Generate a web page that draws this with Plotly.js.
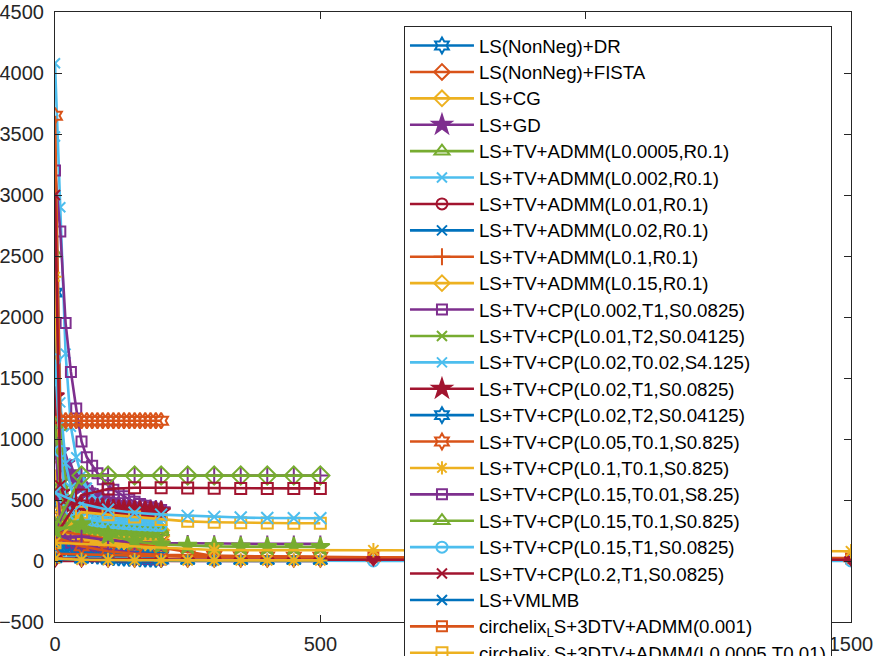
<!DOCTYPE html>
<html>
<head>
<meta charset="utf-8">
<script src="https://cdn.plot.ly/plotly-3.0.1.min.js"></script>
<style>
  html, body { margin: 0; padding: 0; background: #fff; overflow: hidden; }
  #frame { width: 875px; height: 656px; overflow: hidden; }
  #chart { width: 875px; height: 720px; }
</style>
</head>
<body>
<div id="frame"><div id="chart"></div></div>
<script>
// iteration grids
const iterFast = [0, 10, 20, 30, 40, 50, 60, 70, 80, 90, 100, 110, 120, 130, 140, 150, 160, 170, 180, 190, 200];
const iterMid = [0, 50, 100, 150, 200, 250, 300, 350, 400, 450, 500];
const iterLong = [0, 300, 600, 900, 1200, 1500];

const names = [
  'LS(NonNeg)+DR',
  'LS(NonNeg)+FISTA',
  'LS+CG',
  'LS+GD',
  'LS+TV+ADMM(L0.0005,R0.1)',
  'LS+TV+ADMM(L0.002,R0.1)',
  'LS+TV+ADMM(L0.01,R0.1)',
  'LS+TV+ADMM(L0.02,R0.1)',
  'LS+TV+ADMM(L0.1,R0.1)',
  'LS+TV+ADMM(L0.15,R0.1)',
  'LS+TV+CP(L0.002,T1,S0.0825)',
  'LS+TV+CP(L0.01,T2,S0.04125)',
  'LS+TV+CP(L0.02,T0.02,S4.125)',
  'LS+TV+CP(L0.02,T1,S0.0825)',
  'LS+TV+CP(L0.02,T2,S0.04125)',
  'LS+TV+CP(L0.05,T0.1,S0.825)',
  'LS+TV+CP(L0.1,T0.1,S0.825)',
  'LS+TV+CP(L0.15,T0.01,S8.25)',
  'LS+TV+CP(L0.15,T0.1,S0.825)',
  'LS+TV+CP(L0.15,T1,S0.0825)',
  'LS+TV+CP(L0.2,T1,S0.0825)',
  'LS+VMLMB',
  'circhelix<sub>L</sub>S+3DTV+ADMM(0.001)',
  'circhelix<sub>L</sub>S+3DTV+ADMM(L0.0005,T0.01)'
];

// objective value per iteration
const yDR      = [2200, 180, 120, 90, 70, 60, 50, 45, 40, 35, 30, 28, 26, 24, 22, 20, 18, 16, 15, 14, 13];
const yFista   = [1150, 420, 330, 290, 270, 260, 250, 245, 240, 235, 230, 228, 226, 224, 222, 220, 218, 216, 215, 214, 213];
const yCG      = [750, 380, 320, 300, 290, 285, 280, 278, 276, 274, 272, 270, 268, 266, 264, 262, 260, 258, 256, 254, 252];
const yGD      = [1050, 900, 800, 720, 660, 610, 570, 540, 515, 495, 478, 465, 455, 447, 440, 434, 429, 425, 421, 418, 415];
const yAdmm1   = [2520, 1100, 640, 400, 330, 310, 300, 295, 290, 285, 280, 275, 272, 270, 268, 266, 264, 262, 260, 258, 256];
const yAdmm2   = [4080, 2900, 1700, 1100, 850, 700, 600, 540, 500, 470, 450, 435, 420, 410, 400, 392, 385, 380, 375, 372, 370];
const yAdmm3   = [300, 250, 230, 220, 215, 210, 205, 200, 195, 190, 185, 180, 175, 170, 165, 160, 155, 150, 145, 140, 135];
const yAdmm4   = [540, 260, 200, 170, 150, 135, 125, 115, 110, 105, 100, 96, 92, 88, 85, 82, 80, 78, 76, 74, 72];
const yAdmm5   = [260, 240, 230, 220, 215, 210, 205, 200, 198, 196, 194, 192, 190, 188, 186, 184, 182, 180, 178, 176, 175];
const yAdmm6   = [600, 300, 270, 250, 240, 235, 230, 228, 226, 224, 222, 220, 218, 216, 214, 212, 210, 208, 206, 204, 202];
const yCp1     = [3200, 2700, 1950, 1550, 1250, 980, 850, 780, 720, 670, 620, 585, 555, 530, 505, 485, 468, 452, 440, 428, 418];
const yCp2     = [280, 270, 262, 255, 250, 246, 242, 238, 235, 232, 229, 226, 223, 220, 217, 214, 211, 208, 205, 202, 200];
const yCp3     = [3480, 1300, 800, 600, 500, 440, 400, 380, 365, 355, 348, 342, 338, 335, 332, 330, 328, 326, 324, 322, 320];
const yCp4     = [1350, 560, 480, 460, 450, 445, 440, 437, 434, 431, 428, 425, 422, 420, 418, 416, 414, 412, 410, 408, 406];
const yCp5     = [180, 160, 150, 140, 130, 120, 110, 100, 90, 85, 80, 75, 70, 65, 60, 55, 50, 45, 42, 40, 38];
const yCp6     = [3650, 1150, 1150, 1150, 1150, 1150, 1150, 1150, 1150, 1150, 1150, 1150, 1150, 1150, 1150, 1150, 1150, 1150, 1150, 1150, 1150];
const yCp7     = [2330, 400, 250, 200, 180, 170, 165, 160, 155, 150, 148, 146, 144, 142, 140, 138, 136, 134, 132, 130, 128];
const yCp8     = [1050, 300, 200, 150, 120, 100, 90, 80, 70, 60, 50, 45, 40, 35, 30, 25, 20, 18, 16, 14, 12];
const yCp9     = [1120, 620, 320, 290, 285, 280, 276, 272, 268, 265, 262, 259, 256, 253, 250, 248, 246, 244, 242, 240, 238];
const yCp10    = [1650, 900, 500, 420, 380, 360, 345, 335, 328, 322, 318, 314, 310, 307, 304, 301, 298, 296, 294, 292, 290];
const yCp11    = [3000, 620, 500, 470, 455, 450, 445, 440, 436, 432, 428, 425, 422, 419, 416, 413, 410, 408, 406, 404, 402];
const yVmlmb   = [100, 80, 65, 55, 48, 42, 38, 35, 32, 30, 28, 26, 24, 22, 20, 18, 16, 15, 14, 13, 12];
const yHelix1  = [250, 40, 30, 25, 22, 20];
const yHelix2  = [150, 400, 380, 360, 340, 325, 318, 314, 312, 310, 310];
const yHelix3  = [250, 700, 700, 700, 700, 700, 700, 700, 700, 700, 700];
const yHelix4  = [280, 700, 700, 700, 700, 700, 700, 700, 700, 700, 700];
const yHelix5  = [560, 470, 420, 395, 380, 370, 362, 356, 352, 350, 350];
const yHelix6  = [200, 540, 590, 600, 600, 598, 596, 595, 595, 595, 595];
const yHelix7  = [15, 10, 5, 3, 2, 1, 0, 0, 0, 0, 0];
const yHelix8  = [200, 120, 80, 60, 50, 45, 42, 40, 38, 36, 35];
const yHelix9  = [20, 10, 8, 6, 5, 5, 5, 5, 5, 5, 5];
const yHelix10 = [200, 200, 170, 155, 148, 145, 142, 140, 140, 140, 140];
const yHelix11 = [250, 300, 210, 160, 135, 125, 120, 118, 115, 115, 115];
const yHelix12 = [30, 5, 0, 0, 0, 0];
const yHelix13 = [0, 0, 0, 0, 0, 0, 0, 0, 0, 0, 0];
const yHelix14 = [60, 30, 28, 26, 25, 25];
const yHelix15 = [150, 90, 88, 85, 82, 80];
const yHelix16 = [20, 10, 10, 10, 10, 10];

const palette = ['#0072BD', '#D95319', '#EDB120', '#7E2F8E', '#77AC30', '#4DBEEE', '#A2142F'];

// [legend index, x grid, y values, colour index, marker symbol, marker size]
const series = [
  [0, iterFast, yDR, 0, 'hexagram-open', 12],
  [1, iterFast, yFista, 1, 'diamond-open', 12],
  [2, iterFast, yCG, 2, 'diamond-open', 12],
  [3, iterFast, yGD, 3, 'star', 14],
  [4, iterFast, yAdmm1, 4, 'triangle-up-open', 13],
  [5, iterFast, yAdmm2, 5, 'x-thin', 10],
  [6, iterFast, yAdmm3, 6, 'circle-open', 11],
  [7, iterFast, yAdmm4, 0, 'x-thin', 10],
  [8, iterFast, yAdmm5, 1, 'cross-thin', 12],
  [9, iterFast, yAdmm6, 2, 'diamond-open', 12],
  [10, iterFast, yCp1, 3, 'square-open', 10],
  [11, iterFast, yCp2, 4, 'x-thin', 10],
  [12, iterFast, yCp3, 5, 'x-thin', 10],
  [13, iterFast, yCp4, 6, 'star', 14],
  [14, iterFast, yCp5, 0, 'hexagram-open', 12],
  [15, iterFast, yCp6, 1, 'hexagram-open', 12],
  [16, iterFast, yCp7, 2, 'asterisk', 11],
  [17, iterFast, yCp8, 3, 'square-open', 10],
  [18, iterFast, yCp9, 4, 'triangle-up-open', 13],
  [19, iterFast, yCp10, 5, 'circle-open', 11],
  [20, iterFast, yCp11, 6, 'x-thin', 10],
  [21, iterFast, yVmlmb, 0, 'x-thin', 10],
  [22, iterLong, yHelix1, 1, 'square-open', 10],
  [23, iterMid, yHelix2, 2, 'square-open', 11],
  [null, iterMid, yHelix3, 3, 'cross-thin', 12],
  [null, iterMid, yHelix4, 4, 'diamond-open', 14],
  [null, iterMid, yHelix5, 5, 'x-thin', 12],
  [null, iterMid, yHelix6, 6, 'square-open', 11],
  [null, iterMid, yHelix8, 1, 'hexagram-open', 12],
  [null, iterMid, yHelix10, 3, 'cross-thin', 12],
  [null, iterMid, yHelix11, 4, 'star', 14],
  [null, iterLong, yHelix12, 5, 'circle-open', 11],
  [null, iterLong, yHelix14, 1, 'triangle-up-open', 13],
  [null, iterLong, yHelix16, 6, 'triangle-down', 11],
  [null, iterMid, yHelix13, 6, 'triangle-down', 11],
  [null, iterMid, yHelix7, 0, 'triangle-up', 12],
  [null, iterLong, yHelix15, 2, 'asterisk', 12],
  [null, iterMid, yHelix9, 2, 'asterisk', 12]
];

const traces = series.map(([li, xs, ys, ci, sym, sz]) => {
  const c = palette[ci];
  return {
    x: xs,
    y: ys,
    type: 'scatter',
    mode: 'lines+markers',
    // glyphs a touch bigger than the legend row height font
    name: li === null ? '' : '<span style="font-size:18.7px">' + names[li] + '</span>',
    showlegend: li !== null,
    line: { color: c, width: 2.6 },
    marker: { symbol: sym, size: sz, color: c, line: { color: c, width: 2 } }
  };
});

const axisStyle = {
  showline: true,
  linecolor: '#262626',
  linewidth: 1,
  mirror: 'ticks',
  ticks: 'inside',
  ticklen: 7,
  tickcolor: '#262626',
  showgrid: false,
  zeroline: false,
  tickfont: { family: 'Liberation Sans, Arial, sans-serif', size: 20, color: '#262626' }
};

// figure is taller than the window so the legend runs off the bottom, as in the original
const layout = {
  width: 875,
  height: 720,
  margin: { l: 55, r: 24, t: 12, b: 98, pad: 0 },
  paper_bgcolor: '#ffffff',
  plot_bgcolor: '#ffffff',
  showlegend: true,
  hovermode: false,
  xaxis: Object.assign({}, axisStyle, { range: [0, 1500], dtick: 500, tick0: 0, ticklabelstandoff: 4 }),
  yaxis: Object.assign({}, axisStyle, { range: [-500, 4500], dtick: 500, tick0: 0, ticklabelstandoff: 6 }),
  legend: {
    x: 0.4384,
    xanchor: 'left',
    y: 0.9765,
    yanchor: 'top',
    maxheight: 3000,
    itemwidth: 64,
    bgcolor: '#ffffff',
    bordercolor: '#262626',
    borderwidth: 1,
    font: { family: 'Liberation Sans, Arial, sans-serif', size: 18, color: '#000000' },
    tracegroupgap: 0
  }
};

Plotly.newPlot('chart', traces, layout, { displayModeBar: false, staticPlot: true });
</script>
</body>
</html>
